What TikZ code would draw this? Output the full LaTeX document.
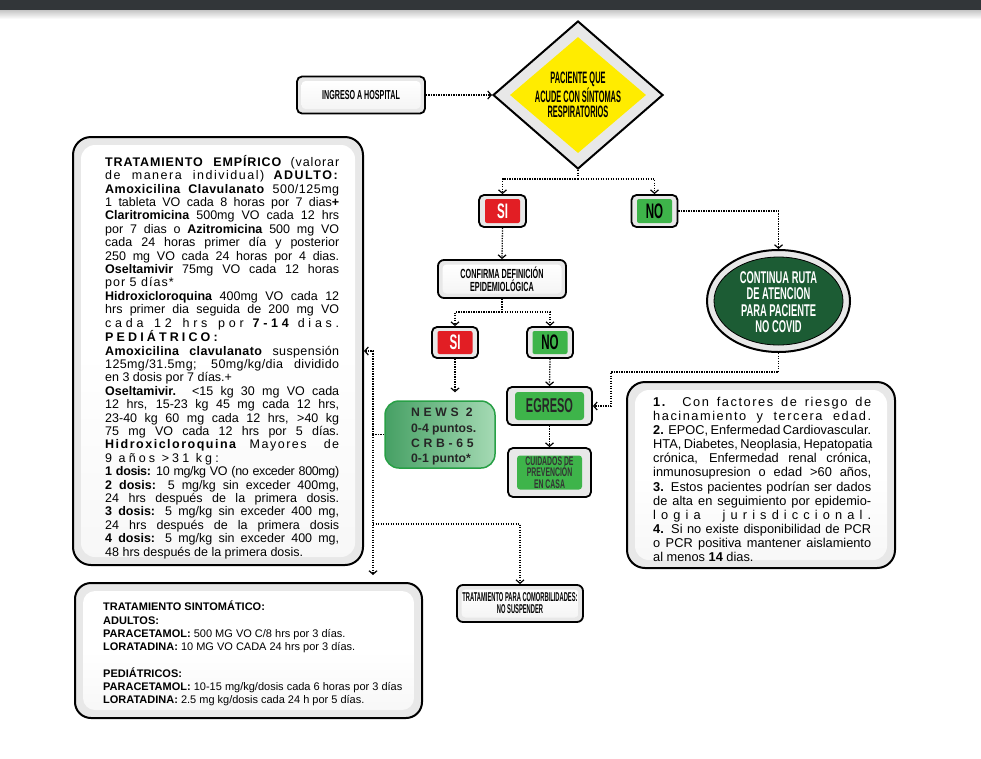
\documentclass[tikz,border=0pt]{standalone}
\usepackage{fontspec}
\setmainfont{Liberation Sans}
\newfontfamily\cond[FakeStretch=0.55]{Liberation Sans}
\newfontfamily\condB[FakeStretch=0.45]{Liberation Sans}
\usetikzlibrary{shapes.geometric,arrows.meta,calc}
\definecolor{redsi}{RGB}{226,30,36}
\definecolor{greenno}{RGB}{62,180,74}
\definecolor{dkgreen}{RGB}{28,92,52}
\definecolor{yel}{RGB}{255,236,0}
\definecolor{band}{RGB}{232,232,232}
\definecolor{topbar}{RGB}{50,54,57}
\definecolor{newsL}{RGB}{70,160,100}
\definecolor{newsR}{RGB}{165,218,180}
\definecolor{newsB}{RGB}{40,160,70}
\newcommand\jline[2]{\makebox[#1][s]{#2}}
\newcommand\lsp[2]{{\addfontfeature{LetterSpace=#1}#2}}
\tikzset{
  conn/.style={line width=1.3pt, dash pattern=on 1.3pt off 1.2pt},
  arr/.style={conn, -{Straight Barb[length=3.5pt,width=8pt,line width=1.2pt]}},
  obox/.style={draw=black, line width=1.8pt, fill=band, rounded corners=5pt, inner sep=0pt},
  ipanel/.style={rounded corners=4pt, inner sep=0pt, top color=white, bottom color=gray!8},
  bigbox/.style={draw=black, line width=2pt, fill=band, rounded corners=18pt, inner sep=0pt},
  bigpanel/.style={rounded corners=14pt, inner sep=0pt, top color=white, bottom color=gray!6, middle color=white},
  lbl/.style={font=\cond\bfseries\fontsize{#1}{#1}\selectfont, align=center, inner sep=0pt},
}
\begin{document}
\begin{tikzpicture}[x=1pt,y=-1pt]
\fill[white] (0,0) rectangle (981,758);
\useasboundingbox (0,0) rectangle (981,758);
\fill[topbar] (0,0) rectangle (981,10);
\shade[top color=gray!45, bottom color=white] (0,10) rectangle (981,19);

% diamond
\node[diamond, draw, line width=2pt, fill=band, minimum width=170pt, minimum height=148pt, inner sep=0pt] (dia) at (578,95) {};
\node[diamond, fill=yel, minimum width=136pt, minimum height=116pt, inner sep=0pt] at (dia) {};
\node[font=\condB\bfseries\fontsize{16.5}{15.5}\selectfont, align=center, inner sep=0pt, text=black] at (578,95) {PACIENTE QUE\\ACUDE CON SÍNTOMAS\\RESPIRATORIOS};

% ingreso
\node[obox, minimum width=128pt, minimum height=37pt] (ing) at (361,95) {};
\node[ipanel, minimum width=119pt, minimum height=28pt] at (ing) {};
\node[lbl=13] at (ing) {INGRESO A HOSPITAL};

% SI / NO top
\node[obox, minimum width=47pt, minimum height=32pt] (si1) at (502.5,211) {};
\node[fill=redsi, rounded corners=2pt, minimum width=35pt, minimum height=24pt, inner sep=0pt, text=white, lbl=21] at (si1) {SI};
\node[obox, minimum width=46pt, minimum height=32pt] (no1) at (654.5,211) {};
\node[fill=greenno, rounded corners=2pt, minimum width=35pt, minimum height=24pt, inner sep=0pt, text=black, lbl=21] at (no1) {NO};

% ellipse
\node[ellipse, draw, line width=2pt, fill=band, minimum width=143pt, minimum height=102pt, inner sep=0pt] (ell) at (778.5,301) {};
\node[ellipse, draw=black, line width=0.8pt, fill=dkgreen, minimum width=129pt, minimum height=88pt, inner sep=0pt] at (ell) {};
\node[font=\cond\bfseries\fontsize{17}{16.5}\selectfont, align=center, inner sep=0pt, text=white] at (778.5,302) {CONTINUA RUTA\\DE ATENCION\\PARA PACIENTE\\NO COVID};

% confirma
\node[obox, rounded corners=6pt, minimum width=128pt, minimum height=38pt] (conf) at (502,279) {};
\node[ipanel, minimum width=119pt, minimum height=29pt] at (conf) {};
\node[font=\cond\bfseries\fontsize{13.2}{13}\selectfont, align=center, inner sep=0pt] at (conf) {CONFIRMA DEFINICIÓN\\EPIDEMIOLÓGICA};

% SI / NO second
\node[obox, minimum width=46pt, minimum height=31pt] (si2) at (455,342.5) {};
\node[fill=redsi, rounded corners=2pt, minimum width=35pt, minimum height=23pt, inner sep=0pt, text=white, lbl=21] at (si2) {SI};
\node[obox, minimum width=46pt, minimum height=31pt] (no2) at (550,342.5) {};
\node[fill=greenno, rounded corners=2pt, minimum width=35pt, minimum height=23pt, inner sep=0pt, text=black, lbl=21] at (no2) {NO};

% NEWS
\node[draw=newsB, line width=1.5pt, rounded corners=14pt, left color=newsL, right color=newsR, minimum width=110pt, minimum height=67pt, inner sep=0pt] (news) at (440,434.5) {};
\node[anchor=north west, align=left, inner sep=0pt, font=\bfseries\fontsize{12.2}{15.3}\selectfont, text=black!85] at (411,408) {\lsp{30}{NEWS 2}\\0-4 puntos.\\\lsp{30}{CRB-65}\\0-1 punto*};

% EGRESO
\node[obox, minimum width=85pt, minimum height=38pt] (egr) at (549.5,406) {};
\node[fill=greenno, rounded corners=3pt, minimum width=69pt, minimum height=28pt, inner sep=0pt, text=black!85, font=\cond\bfseries\fontsize{20}{20}\selectfont] at (egr) {EGRESO};

% CUIDADOS
\node[obox, minimum width=83pt, minimum height=49pt] (cuid) at (549.5,472.5) {};
\node[fill=greenno, rounded corners=3pt, minimum width=65pt, minimum height=34pt, inner sep=0pt] at (cuid) {};
\node[font=\cond\bfseries\fontsize{12.5}{11.8}\selectfont, align=center, inner sep=0pt, text=black!80] at (cuid) {CUIDADOS DE\\PREVENCIÓN\\EN CASA};

% comorbilidades
\node[obox, rounded corners=6pt, minimum width=126pt, minimum height=37pt] (comor) at (520,603.5) {};
\node[ipanel, minimum width=117pt, minimum height=28pt] at (comor) {};
\node[font=\condB\bfseries\fontsize{12.8}{12}\selectfont, align=center, inner sep=0pt] at (comor) {TRATAMIENTO PARA COMORBILIDADES:\\NO SUSPENDER};

% left big box
\node[bigbox, minimum width=290pt, minimum height=428pt] (trat) at (218,351) {};
\node[bigpanel, minimum width=274pt, minimum height=412pt] at (trat) {};
\node[anchor=north west, align=left, inner sep=0pt, font=\fontsize{12.5}{13.4}\selectfont] at (105,155) {%
\jline{234pt}{\textbf{\lsp{7}{TRATAMIENTO EMPÍRICO}} \lsp{7}{(valorar}}\\
\jline{234pt}{\lsp{12}{de manera individual)} \textbf{\lsp{12}{ADULTO:}}}\\
\jline{234pt}{\lsp{4}{\textbf{Amoxicilina Clavulanato} 500/125mg}}\\
\jline{234pt}{1 tableta VO cada 8 horas por 7 dias\textbf{+}}\\
\jline{234pt}{\textbf{Claritromicina} 500mg VO cada 12 hrs}\\
\jline{234pt}{por 7 dias o \textbf{Azitromicina} 500 mg VO}\\
\jline{234pt}{cada 24 horas primer día y posterior}\\
\jline{234pt}{250 mg VO cada 24 horas por 4 dias.}\\
\jline{234pt}{\textbf{Oseltamivir} 75mg VO cada 12 horas}\\
\lsp{8}{por 5 días*}\\
\jline{234pt}{\textbf{Hidroxicloroquina} 400mg VO cada 12}\\
\jline{234pt}{hrs primer dia seguida de 200 mg VO}\\
\jline{234pt}{\lsp{30}{cada 12 hrs por} \textbf{\lsp{30}{7-14}} \lsp{30}{dias.}}\\
\textbf{\lsp{25}{PEDIÁTRICO:}}\\
\jline{234pt}{\lsp{3}{\textbf{Amoxicilina clavulanato} suspensión}}\\
\jline{234pt}{\lsp{3}{125mg/31.5mg; 50mg/kg/dia dividido}}\\
en 3 dosis por 7 días.+\\
\jline{234pt}{\textbf{Oseltamivir.} <15 kg 30 mg VO cada}\\
\jline{234pt}{12 hrs, 15-23 kg 45 mg cada 12 hrs,}\\
\jline{234pt}{23-40 kg 60 mg cada 12 hrs, >40 kg}\\
\jline{234pt}{75 mg VO cada 12 hrs por 5 días.}\\
\jline{234pt}{\textbf{\lsp{12}{Hidroxicloroquina}} \lsp{12}{Mayores de}}\\
\lsp{25}{9 años >31 kg:}\\
\jline{234pt}{\lsp{-3}{\textbf{1 dosis:} 10 mg/kg VO (no exceder 800mg)}}\\
\jline{234pt}{\textbf{2 dosis:} 5 mg/kg sin exceder 400mg,}\\
\jline{234pt}{24 hrs después de la primera dosis.}\\
\jline{234pt}{\textbf{3 dosis:} 5 mg/kg sin exceder 400 mg,}\\
\jline{234pt}{24 hrs después de la primera dosis}\\
\jline{234pt}{\textbf{4 dosis:} 5 mg/kg sin exceder 400 mg,}\\
48 hrs después de la primera dosis.};

% bottom left box
\node[bigbox, rounded corners=16pt, minimum width=347pt, minimum height=135pt] (sint) at (248.5,650.5) {};
\node[bigpanel, rounded corners=12pt, minimum width=331pt, minimum height=119pt] at (sint) {};
\node[anchor=north west, align=left, inner sep=0pt, font=\fontsize{11}{13.2}\selectfont] at (103,601) {%
\textbf{TRATAMIENTO SINTOMÁTICO:}\\
\textbf{ADULTOS:}\\
\textbf{PARACETAMOL:} 500 MG VO C/8 hrs por 3 días.\\
\textbf{LORATADINA:} 10 MG VO CADA 24 hrs por 3 días.\\[13.4pt]
\textbf{PEDIÁTRICOS:}\\
\textbf{PARACETAMOL:} 10-15 mg/kg/dosis cada 6 horas por 3 días\\
\textbf{LORATADINA:} 2.5 mg kg/dosis cada 24 h por 5 días.};

% right box
\node[bigbox, minimum width=268pt, minimum height=186pt] (risk) at (761,475) {};
\node[bigpanel, minimum width=252pt, minimum height=170pt] at (risk) {};
\node[anchor=north west, align=left, inner sep=0pt, font=\fontsize{12.8}{14.1}\selectfont] at (653,397) {%
\jline{218pt}{\lsp{12}{\textbf{1.} Con factores de riesgo de}}\\
\jline{218pt}{\lsp{12}{hacinamiento y tercera edad.}}\\
\jline{218pt}{\textbf{2.} EPOC, Enfermedad Cardiovascular.}\\
\jline{218pt}{HTA, Diabetes, Neoplasia, Hepatopatia}\\
\jline{218pt}{crónica, Enfermedad renal crónica,}\\
\jline{218pt}{inmunosupresion o edad >60 años,}\\
\jline{218pt}{\textbf{3.} Estos pacientes podrían ser dados}\\
\jline{218pt}{de alta en seguimiento por epidemio-}\\
\jline{218pt}{\lsp{40}{logia jurisdiccional.}}\\
\jline{218pt}{\textbf{4.} Si no existe disponibilidad de PCR}\\
\jline{218pt}{o PCR positiva mantener aislamiento}\\
al menos \textbf{14} dias.};

% connectors
\draw[arr] (ing.east) -- (dia.west);
\coordinate (b1) at (578,179);
\draw[conn] (dia.south) -- (b1);
\draw[arr] (b1) -| (si1.north);
\draw[arr] (b1) -| (no1.north);
\draw[arr] (no1.east) -| (ell.north);
\draw[arr] (si1.south) -- (conf.north);
\coordinate (b2) at (502,312);
\draw[conn] (conf.south) -- (b2);
\draw[arr] (b2) -| (si2.north);
\draw[arr] (b2) -| (no2.north);
\draw[arr, shorten >=8pt] (si2.south) -- (si2.south |- news.north);
\draw[arr] (no2.south) -- (egr.north);
\draw[arr] (egr.south) -- (cuid.north);
\coordinate (e1) at (778.5,372);
\coordinate (e2) at (611,372);
\draw[arr] (ell.south) -- (e1) -- (e2) |- (egr.east);
\coordinate (J) at (373,434.5);
\coordinate (Jt) at (373,351);
\coordinate (Jb) at (373,524);
\draw[conn] (news.west) -- (J);
\draw[arr] (J) -- (Jt) -- (Jt -| trat.east);
\draw[arr, shorten >=7pt] (J) -- (J |- sint.north);
\draw[arr] (Jb) -| (comor.north);
\end{tikzpicture}
\end{document}
